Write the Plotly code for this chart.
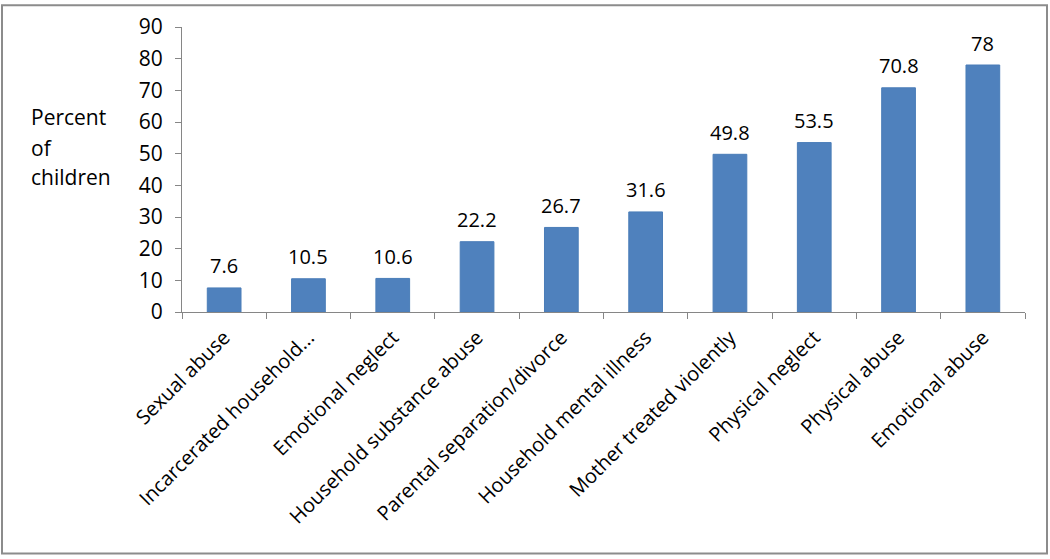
import plotly.graph_objects as go

categories = ["Sexual abuse", "Incarcerated household...", "Emotional neglect",
              "Household substance abuse", "Parental separation/divorce",
              "Household mental illness", "Mother treated violently",
              "Physical neglect", "Physical abuse", "Emotional abuse"]
values = [7.6, 10.5, 10.6, 22.2, 26.7, 31.6, 49.8, 53.5, 70.8, 78]
y_ticks = [0, 10, 20, 30, 40, 50, 60, 70, 80, 90]
y_title_lines = ["Percent", "of", "children"]

W, H = 1050, 559
L, R, T, B = 182, 25, 24, 247
pw, ph = W - L - R, H - T - B
FONT = "Open Sans"
NUM = 21

fig = go.Figure(go.Bar(
    x=categories, y=values,
    marker=dict(color="#4F81BD", line=dict(color="#4A7DB8", width=1)),
    cliponaxis=False, width=0.4, hoverinfo="x+y",
))

def px2x(p):
    return (p - L) / pw

def px2y(p):
    return (H - B - p) / ph

annotations = []
for cat, v in zip(categories, values):
    annotations.append(dict(
        text=f"{v:g}", x=cat, y=v, xref="x", yref="y",
        yanchor="middle", yshift=22, showarrow=False,
        font=dict(family=FONT, size=20, color="#000000"),
    ))
for line, yc in zip(y_title_lines, [115, 146, 176]):
    annotations.append(dict(
        text=line, xref="paper", yref="paper",
        x=px2x(29), y=px2y(yc), xanchor="left", yanchor="middle",
        showarrow=False, align="left",
        font=dict(family=FONT, size=NUM, color="#000000"),
    ))

fig.update_layout(
    width=W, height=H,
    margin=dict(l=L, r=R, t=T, b=B),
    paper_bgcolor="white", plot_bgcolor="white",
    showlegend=False,
    font=dict(family=FONT, size=NUM, color="#000000"),
    xaxis=dict(
        type="category", tickangle=-45, tickson="boundaries",
        ticks="outside", ticklen=6, tickcolor="#868686",
        showline=True, linecolor="#868686", linewidth=1,
        showgrid=False, ticklabelstandoff=5,
        tickfont=dict(family=FONT, size=20, color="#000000"),
    ),
    yaxis=dict(
        range=[0, 90], tickvals=y_ticks, ticks="outside", ticklen=6,
        tickcolor="#868686", showline=True, linecolor="#868686", linewidth=1,
        showgrid=False, zeroline=False, ticklabelstandoff=8,
        tickfont=dict(family=FONT, size=NUM, color="#000000"),
    ),
    annotations=annotations,
    shapes=[dict(
        type="rect", xref="paper", yref="paper",
        x0=px2x(2), x1=px2x(1047), y0=px2y(556), y1=px2y(2),
        line=dict(color="#8C8C8C", width=2), fillcolor="rgba(0,0,0,0)",
        layer="below",
    )],
)

fig.write_html("out.html", config={"displayModeBar": False},
               post_script="document.body.style.margin='0';document.body.style.overflow='hidden';")
